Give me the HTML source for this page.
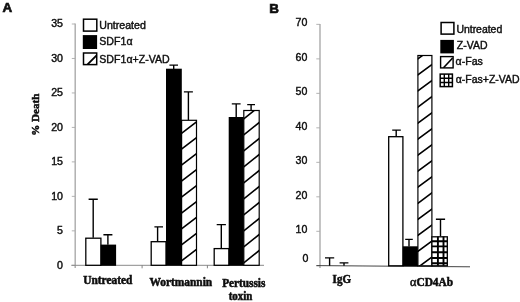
<!DOCTYPE html>
<html><head><meta charset="utf-8"><title>Figure</title>
<style>
html,body{margin:0;padding:0;background:#fff;}
body{width:520px;height:302px;overflow:hidden;}
svg{display:block;}
.s{font-family:"Liberation Sans",Arial,sans-serif;font-size:10.6px;fill:#0a0a0a;stroke:#0a0a0a;stroke-width:0.38px;}
.l{font-family:"Liberation Sans",Arial,sans-serif;font-size:10.6px;fill:#0a0a0a;stroke:#0a0a0a;stroke-width:0.38px;}
.b{font-family:"Liberation Serif","Times New Roman",serif;font-weight:bold;font-size:11.5px;fill:#0a0a0a;stroke:#0a0a0a;stroke-width:0.5px;}
.p{font-family:"Liberation Sans",Arial,sans-serif;font-weight:bold;font-size:13.4px;fill:#0a0a0a;stroke:#0a0a0a;stroke-width:0.65px;}
</style></head><body>
<svg width="520" height="302" viewBox="0 0 520 302">
<defs>
<filter id="soft" x="0" y="0" width="520" height="302" filterUnits="userSpaceOnUse"><feGaussianBlur stdDeviation="0.32"/></filter>
</defs>
<rect width="520" height="302" fill="#fff"/>
<g filter="url(#soft)">

<text class="p" x="2.5" y="12.2">A</text>
<text class="p" x="269.3" y="12.8">B</text>
<path d="M75.2 23.5V268" stroke="#adadad" stroke-width="1.45" fill="none"/>
<path d="M71.8 265.3H75" stroke="#aaa" stroke-width="0.9"/>
<text class="s" x="63" y="268.5" text-anchor="end">0</text>
<path d="M71.8 230.83H75" stroke="#aaa" stroke-width="0.9"/>
<text class="s" x="63" y="234.03" text-anchor="end">5</text>
<path d="M71.8 196.36H75" stroke="#aaa" stroke-width="0.9"/>
<text class="s" x="63" y="199.56" text-anchor="end">10</text>
<path d="M71.8 161.89H75" stroke="#aaa" stroke-width="0.9"/>
<text class="s" x="63" y="165.09" text-anchor="end">15</text>
<path d="M71.8 127.42H75" stroke="#aaa" stroke-width="0.9"/>
<text class="s" x="63" y="130.62" text-anchor="end">20</text>
<path d="M71.8 92.95H75" stroke="#aaa" stroke-width="0.9"/>
<text class="s" x="63" y="96.15" text-anchor="end">25</text>
<path d="M71.8 58.48H75" stroke="#aaa" stroke-width="0.9"/>
<text class="s" x="63" y="61.68" text-anchor="end">30</text>
<path d="M71.8 24.01H75" stroke="#aaa" stroke-width="0.9"/>
<text class="s" x="63" y="27.21" text-anchor="end">35</text>
<path d="M71.3 265.3H264" stroke="#8a8a8a" stroke-width="1"/>
<path d="M142.1 265.3V268.3" stroke="#777" stroke-width="0.9"/>
<path d="M207.4 265.3V268.3" stroke="#777" stroke-width="0.9"/>
<path d="M93.2 237.7V199.3M88.6 199.3H97.8" stroke="#000" stroke-width="1.4" fill="none"/>
<rect x="85.8" y="238.2" width="15.1" height="27.1" fill="#fff" stroke="#000" stroke-width="1.3"/>
<path d="M107.9 244.8V234.7M103.4 234.7H112.4" stroke="#000" stroke-width="1.4" fill="none"/>
<rect x="100.7" y="244.6" width="15.4" height="21.2" fill="#000"/>
<path d="M157.6 241.7V226.9M154.4 226.9H163" stroke="#000" stroke-width="1.4" fill="none"/>
<rect x="151.2" y="241.7" width="14.8" height="23.6" fill="#fff" stroke="#000" stroke-width="1.3"/>
<path d="M173.7 68.9V65.1M169.4 65.1H178" stroke="#000" stroke-width="1.4" fill="none"/>
<rect x="166" y="68.7" width="15.8" height="197.1" fill="#000"/>
<path d="M188.4 120.2V91.9M183.9 91.9H192.9" stroke="#000" stroke-width="1.4" fill="none"/>
<clipPath id="c1"><rect x="181.6" y="120.3" width="14.9" height="145"/></clipPath>
<rect x="181.6" y="120.3" width="14.9" height="145" fill="#fff"/>
<path d="M178.62 103.58L199.48 87.62M178.62 119.53L199.48 103.57M178.62 135.48L199.48 119.52M178.62 151.43L199.48 135.47M178.62 167.38L199.48 151.42M178.62 183.33L199.48 167.37M178.62 199.28L199.48 183.32M178.62 215.23L199.48 199.27M178.62 231.18L199.48 215.22M178.62 247.13L199.48 231.17M178.62 263.08L199.48 247.12M178.62 279.03L199.48 263.07" stroke="#000" stroke-width="1.6" fill="none" clip-path="url(#c1)"/>
<rect x="181.6" y="120.3" width="14.9" height="145" fill="none" stroke="#000" stroke-width="1.2"/>
<path d="M221.3 248.5V224.6M216.7 224.6H225.9" stroke="#000" stroke-width="1.4" fill="none"/>
<rect x="214.2" y="248.6" width="14.7" height="16.7" fill="#fff" stroke="#000" stroke-width="1.3"/>
<path d="M236.2 117.2V103.9M231.8 103.9H240.6" stroke="#000" stroke-width="1.4" fill="none"/>
<rect x="228.7" y="117" width="15.3" height="148.8" fill="#000"/>
<path d="M251.1 110.6V104.6M247.2 104.6H255" stroke="#000" stroke-width="1.4" fill="none"/>
<clipPath id="c2"><rect x="243.8" y="110.5" width="15.4" height="154.8"/></clipPath>
<rect x="243.8" y="110.5" width="15.4" height="154.8" fill="#fff"/>
<path d="M240.72 105.26L262.28 88.04M240.72 121.26L262.28 104.04M240.72 137.26L262.28 120.04M240.72 153.26L262.28 136.04M240.72 169.26L262.28 152.04M240.72 185.26L262.28 168.04M240.72 201.26L262.28 184.04M240.72 217.26L262.28 200.04M240.72 233.26L262.28 216.04M240.72 249.26L262.28 232.04M240.72 265.26L262.28 248.04M240.72 281.26L262.28 264.04" stroke="#000" stroke-width="1.6" fill="none" clip-path="url(#c2)"/>
<rect x="243.8" y="110.5" width="15.4" height="154.8" fill="none" stroke="#000" stroke-width="1.2"/>
<rect x="83.5" y="19.2" width="13.3" height="11.9" fill="#fff" stroke="#000" stroke-width="1.5"/>
<rect x="82.8" y="35.1" width="14.3" height="13.9" fill="#000"/>
<rect x="83.5" y="53" width="13.2" height="11.6" fill="#fff" stroke="#000" stroke-width="1.5"/>
<path d="M87.6 64.4 L96.6 55.4" stroke="#000" stroke-width="1.8"/>
<text class="l" x="99.3" y="28.6">Untreated</text>
<text class="l" x="99.3" y="45.2">SDF1α</text>
<text class="l" x="99.3" y="62.6">SDF1α+Z-VAD</text>
<text class="b" transform="translate(39.4 135.7) rotate(-90)" x="0" y="0" style="font-size:11px" textLength="42" lengthAdjust="spacingAndGlyphs">% Death</text>
<text class="b" x="83.2" y="283.5" style="font-size:11.6px" textLength="49.2" lengthAdjust="spacingAndGlyphs">Untreated</text>
<text class="b" x="149.4" y="285.5" style="font-size:12.2px" textLength="62.8" lengthAdjust="spacingAndGlyphs">Wortmannin</text>
<text class="b" x="222.2" y="287.1" style="font-size:12px" textLength="43.2" lengthAdjust="spacingAndGlyphs">Pertussis</text>
<text class="b" x="228.7" y="299.5" style="font-size:12px" textLength="23.7" lengthAdjust="spacingAndGlyphs">toxin</text>
<path d="M320 24V268" stroke="#adadad" stroke-width="1.45" fill="none"/>
<path d="M316.3 265.8H320" stroke="#aaa" stroke-width="0.9"/>
<text class="s" x="308.5" y="262.1" text-anchor="end">0</text>
<path d="M316.3 231.31H320" stroke="#aaa" stroke-width="0.9"/>
<text class="s" x="307.3" y="233.41" text-anchor="end">10</text>
<path d="M316.3 196.82H320" stroke="#aaa" stroke-width="0.9"/>
<text class="s" x="307.3" y="198.92" text-anchor="end">20</text>
<path d="M316.3 162.33H320" stroke="#aaa" stroke-width="0.9"/>
<text class="s" x="307.3" y="164.43" text-anchor="end">30</text>
<path d="M316.3 127.84H320" stroke="#aaa" stroke-width="0.9"/>
<text class="s" x="307.3" y="129.94" text-anchor="end">40</text>
<path d="M316.3 93.35H320" stroke="#aaa" stroke-width="0.9"/>
<text class="s" x="307.3" y="95.45" text-anchor="end">50</text>
<path d="M316.3 58.86H320" stroke="#aaa" stroke-width="0.9"/>
<text class="s" x="307.3" y="60.96" text-anchor="end">60</text>
<path d="M316.3 24.37H320" stroke="#aaa" stroke-width="0.9"/>
<text class="s" x="307.3" y="26.47" text-anchor="end">70</text>
<path d="M316.4 265.6L470 266.8" stroke="#3a3a3a" stroke-width="0.95"/>
<path d="M329.6 265.8V257.9M325 257.9H334.2" stroke="#000" stroke-width="1.4" fill="none"/>
<path d="M344 265.8V262.9M339.6 262.9H348.4" stroke="#000" stroke-width="1.4" fill="none"/>
<path d="M396.2 136.7V130.1M392.2 130.1H400.8" stroke="#000" stroke-width="1.4" fill="none"/>
<rect x="388.7" y="136.7" width="14.2" height="129.1" fill="#fff" stroke="#000" stroke-width="1.3"/>
<path d="M409 246.5V239.4M405.2 239.4H412.8" stroke="#000" stroke-width="1.4" fill="none"/>
<rect x="402.8" y="246.3" width="15.2" height="20" fill="#000"/>
<clipPath id="c3"><rect x="417.9" y="55.5" width="14" height="210.3"/></clipPath>
<rect x="417.9" y="55.5" width="14" height="210.3" fill="#fff"/>
<path d="M415.1 44.88L434.7 30.46M415.1 60.92L434.7 46.5M415.1 76.96L434.7 62.54M415.1 93L434.7 78.58M415.1 109.04L434.7 94.62M415.1 125.08L434.7 110.66M415.1 141.12L434.7 126.7M415.1 157.16L434.7 142.74M415.1 173.2L434.7 158.78M415.1 189.24L434.7 174.82M415.1 205.28L434.7 190.86M415.1 221.32L434.7 206.9M415.1 237.36L434.7 222.94M415.1 253.4L434.7 238.98M415.1 269.44L434.7 255.02" stroke="#000" stroke-width="1.6" fill="none" clip-path="url(#c3)"/>
<rect x="417.9" y="55.5" width="14" height="210.3" fill="none" stroke="#000" stroke-width="1.2"/>
<path d="M440.5 236.4V219.3M435.9 219.3H445.1" stroke="#000" stroke-width="1.4" fill="none"/>
<rect x="431.9" y="236.8" width="15.4" height="29" fill="#fff"/>
<path d="M437.9 236.8V265.8M443.5 236.8V265.8M431.9 241.2H447.3M431.9 246.4H447.3M431.9 252.2H447.3M431.9 258H447.3M431.9 263.3H447.3" stroke="#000" stroke-width="1.9" fill="none"/>
<rect x="431.9" y="236.8" width="15.4" height="29" fill="none" stroke="#000" stroke-width="1.3"/>
<rect x="441.1" y="22.5" width="12.8" height="11.6" fill="#fff" stroke="#000" stroke-width="1.5"/>
<rect x="440.3" y="39.9" width="13.6" height="13.5" fill="#000"/>
<rect x="440.6" y="56.6" width="12.5" height="11.3" fill="#fff" stroke="#000" stroke-width="1.4"/>
<path d="M443.5 67.8 L452.6 58" stroke="#000" stroke-width="1.6"/>
<rect x="440.2" y="74.1" width="12.2" height="12.5" fill="#fff" stroke="#000" stroke-width="1.5"/>
<path d="M444.3 74V86.4M448.7 74V86.4M440 78.3H452.6M440 82.5H452.6" stroke="#000" stroke-width="1.4"/>
<text class="l" x="456.4" y="32.6" style="font-size:10.45px">Untreated</text>
<text class="l" x="456.8" y="49.3" style="font-size:10.5px">Z-VAD</text>
<text class="l" x="455.6" y="65.2">α-Fas</text>
<text class="l" x="455.7" y="82.8" style="font-size:10.5px">α-Fas+Z-VAD</text>
<text class="b" x="332.6" y="283" style="font-size:11.6px" textLength="18.4" lengthAdjust="spacingAndGlyphs">IgG</text>
<text class="b" x="410" y="285.8" style="font-size:12px" textLength="43" lengthAdjust="spacingAndGlyphs"><tspan style="font-weight:normal;font-size:13px">α</tspan>CD4Ab</text>
</g>
</svg></body></html>
